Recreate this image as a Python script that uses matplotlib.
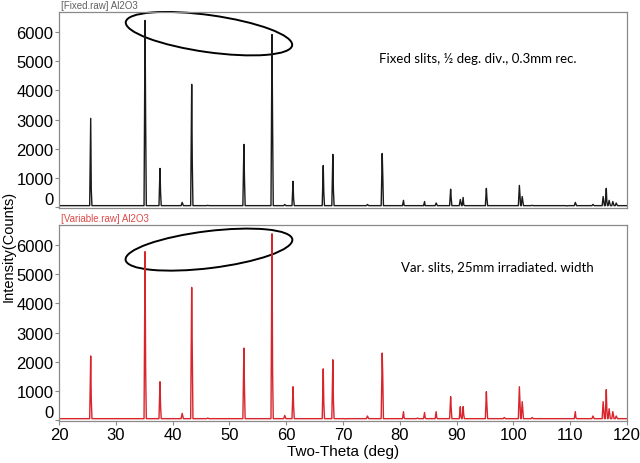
"""
Al2O3 XRD pattern: fixed slits vs. variable slits (two stacked panels).
"""

import matplotlib
matplotlib.use('Agg')
import matplotlib.pyplot as plt
from matplotlib.patches import Ellipse
from matplotlib.transforms import ScaledTranslation


# ── Data (peaks) ─────────────────────────────────────────────────────────────

# fixed slits: peak position (deg), peak height, right shoulder height (Ka2)
FIXED_POS = [25.58, 35.15, 37.78, 41.68, 43.36, 46.18, 52.55, 57.50, 59.74,
             61.20, 66.52, 68.21, 70.42, 74.30, 76.90, 80.65, 83.10, 84.36,
             86.40, 88.95, 90.65, 91.15, 95.24, 98.39, 101.05, 101.55, 103.30,
             109.40, 110.90, 114.00, 115.80, 116.35, 116.85, 117.50, 118.10]
FIXED_H = [3040, 6380, 1330, 170, 4200, 70, 2150, 5900, 100,
           890, 1430, 1810, 60, 100, 1840, 240, 60, 200,
           150, 620, 270, 340, 650, 60, 750, 370, 70,
           50, 170, 100, 370, 650, 240, 200, 150]
FIXED_SH = [600, 3000, 500, 0, 1600, 0, 1000, 2900, 0,
            300, 500, 600, 0, 0, 1100, 80, 0, 60,
            0, 300, 0, 100, 300, 0, 0, 0, 0,
            0, 0, 0, 0, 200, 0, 0, 0]

# variable slits
VAR_POS = FIXED_POS
VAR_H = [2200, 5760, 1320, 240, 4540, 80, 2470, 6370, 170,
         1150, 1760, 2070, 50, 150, 2300, 300, 80, 270,
         300, 810, 470, 470, 980, 100, 1150, 640, 100,
         60, 300, 150, 640, 1050, 400, 300, 150]
VAR_SH = [700, 1800, 500, 0, 2400, 0, 1100, 1700, 0,
          500, 600, 700, 0, 0, 1500, 100, 0, 100,
          100, 400, 150, 200, 500, 0, 0, 0, 0,
          0, 100, 0, 0, 400, 0, 0, 0]

BASELINE = 60
X_TICKS = [20, 30, 40, 50, 60, 70, 80, 90, 100, 110, 120]
Y_TICKS = [0, 1000, 2000, 3000, 4000, 5000, 6000]

FIXED_TITLE = '[Fixed.raw] Al2O3'
VAR_TITLE = '[Variable.raw] Al2O3'
FIXED_NOTE = 'Fixed slits, \u00bd deg. div., 0.3mm rec.'
VAR_NOTE = 'Var. slits, 25mm irradiated. width'


def profile(pos, hgt, sh):
    """peak list -> polyline (x, y)"""
    xs, ys = [20.0], [BASELINE]
    for p, h, s in zip(pos, hgt, sh):
        xs += [p - 0.18, p]
        ys += [BASELINE, h]
        if s:
            xs.append(p + 0.1)
            ys.append(s)
        xs.append(p + 0.22)
        ys.append(BASELINE)
    xs.append(120.0)
    ys.append(BASELINE)
    return xs, ys


def style_axes(ax, fig):
    ax.set_xlim(20, 120)
    ax.set_ylim(-20, 6670)
    ax.set_yticks(Y_TICKS)
    for sp in ax.spines.values():
        sp.set_color('#8a8a8a')
        sp.set_linewidth(0.9)
    ax.tick_params(direction='out', length=3, width=0.8, color='#8a8a8a',
                   labelsize=12, pad=1)
    for lab in ax.get_yticklabels():
        lab.set_fontfamily('Liberation Sans')
    # '0' label sits a little above the axis bottom
    lab0 = ax.get_yticklabels()[0]
    lab0.set_transform(lab0.get_transform() +
                       ScaledTranslation(0, 7 / 72, fig.dpi_scale_trans))


def main():
    fig = plt.figure(figsize=(6.4, 4.64), dpi=100)
    ax1 = fig.add_axes([0.0922, 0.5496, 0.8875, 0.4224])
    ax2 = fig.add_axes([0.0922, 0.0905, 0.8875, 0.4224])

    x1, y1 = profile(FIXED_POS, FIXED_H, FIXED_SH)
    x2, y2 = profile(VAR_POS, VAR_H, VAR_SH)
    ax1.plot(x1, y1, color='#1a1a1a', lw=1.0)
    ax2.plot(x2, y2, color='#d8252c', lw=1.0)

    style_axes(ax1, fig)
    style_axes(ax2, fig)
    ax1.tick_params(bottom=False, labelbottom=False)
    ax2.set_xticks(X_TICKS)
    for lab in ax2.get_xticklabels():
        lab.set_fontfamily('Liberation Sans')

    # panel titles
    ax1.text(0.003, 1.01, FIXED_TITLE, transform=ax1.transAxes, fontsize=7,
             color='#606060', family='Liberation Sans', va='bottom')
    ax2.text(0.003, 1.01, VAR_TITLE, transform=ax2.transAxes, fontsize=7,
             color='#e04a4a', family='Liberation Sans', va='bottom')

    # notes
    ax1.text(0.737, 0.765, FIXED_NOTE, transform=ax1.transAxes, fontsize=9.5,
             family='Lato', ha='center', va='center')
    ax2.text(0.772, 0.79, VAR_NOTE, transform=ax2.transAxes, fontsize=9.5,
             family='Lato', ha='center', va='center')

    # ellipses round the two strongest peaks (size in inches, centre in data)
    for ax, cy, ang in [(ax1, 5930, -8), (ax2, 5830, 7)]:
        tr = fig.dpi_scale_trans + ScaledTranslation(46.4, cy, ax.transData)
        ax.add_patch(Ellipse((0, 0), 1.68, 0.37, angle=ang, transform=tr,
                             fill=False, ec='black', lw=1.4, clip_on=False))

    fig.text(0.014, 0.468, 'Intensity(Counts)', rotation=90, fontsize=10.5,
             family='Liberation Sans', ha='center', va='center')
    ax2.set_xlabel('Two-Theta (deg)', fontsize=11, family='Liberation Sans',
                   labelpad=2)

    fig.savefig('out.png', dpi=100)


if __name__ == '__main__':
    main()
